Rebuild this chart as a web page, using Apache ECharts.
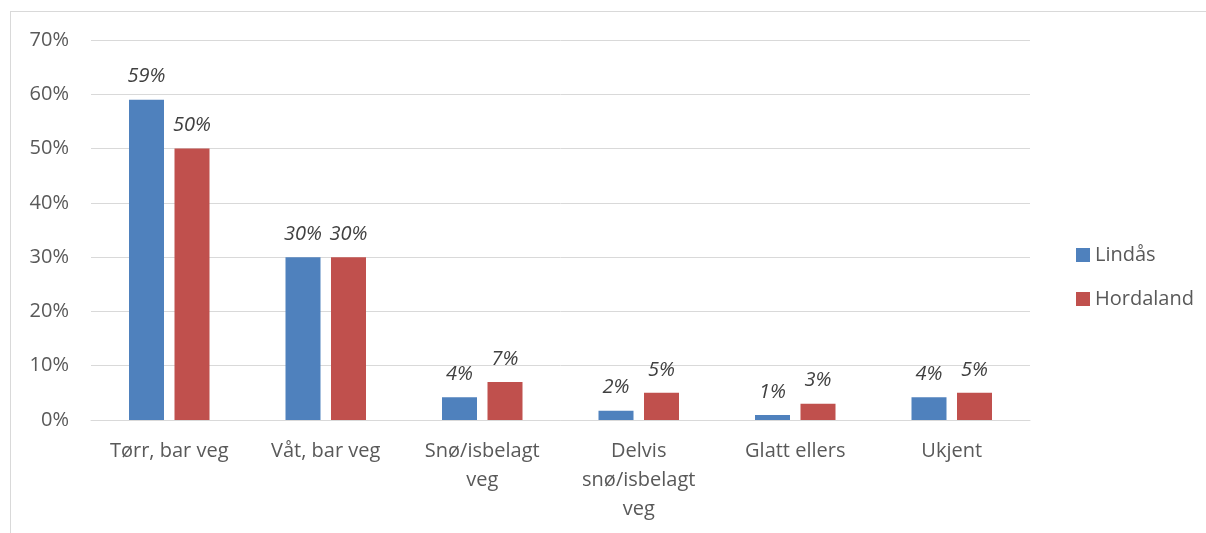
<!DOCTYPE html>
<html>
<head>
<meta charset="utf-8">
<script src="https://cdn.jsdelivr.net/npm/echarts@6/dist/echarts.min.js"></script>
<style>
  html, body { margin: 0; padding: 0; background: #fff; }
  #frame { position: absolute; left: 10px; top: 11px; width: 1210px; height: 540px;
           border-left: 1px solid #d9d9d9; border-top: 1px solid #d9d9d9; }
  #chart { position: absolute; left: 0; top: 0; width: 1206px; height: 533px; }
</style>
</head>
<body>
<div id="frame"></div>
<div id="chart"></div>
<script>
const categories = [
  "Tørr, bar veg",
  "Våt, bar veg",
  "Snø/isbelagt\nveg",
  "Delvis\nsnø/isbelagt\nveg",
  "Glatt ellers",
  "Ukjent",
];
const lindas = [59, 30, 4.2, 1.7, 0.9, 4.2];
const lindasLabels = ["59%", "30%", "4%", "2%", "1%", "4%"];
const hordaland = [50, 30, 7, 5, 3, 5];
const hordalandLabels = ["50%", "30%", "7%", "5%", "3%", "5%"];
const yTicks = [0, 10, 20, 30, 40, 50, 60, 70];

const font = "Open Sans";

const chart = echarts.init(document.getElementById("chart"));

function barLabel(texts) {
  return {
    show: true,
    position: "top",
    distance: 13,
    color: "#404040",
    fontStyle: "italic",
    fontFamily: font,
    fontSize: 20,
    formatter: (p) => texts[p.dataIndex],
  };
}

const option = {
  animation: false,
  textStyle: { fontFamily: font },
  grid: { left: 91, right: 176, top: 40, bottom: 113 },
  legend: {
    orient: "vertical",
    left: 1071,
    top: 240,
    itemWidth: 14,
    itemHeight: 14,
    itemGap: 24,
    icon: "rect",
    textStyle: { color: "#595959", fontSize: 20, fontFamily: font },
    data: ["Lindås", "Hordaland"],
  },
  xAxis: {
    type: "category",
    data: categories,
    axisLine: { lineStyle: { color: "#d9d9d9", width: 1 } },
    axisTick: { show: false },
    axisLabel: {
      color: "#595959",
      fontSize: 20,
      fontFamily: font,
      margin: 17,
      lineHeight: 29,
      interval: 0,
    },
  },
  yAxis: {
    type: "value",
    min: 0,
    max: 70,
    interval: 10,
    axisLine: { show: false },
    axisTick: { show: false },
    splitLine: { lineStyle: { color: "#d9d9d9", width: 1 } },
    axisLabel: {
      color: "#595959",
      fontSize: 20,
      fontFamily: font,
      margin: 22,
      formatter: (v) => (yTicks.includes(v) ? v + "%" : ""),
    },
  },
  series: [
    {
      name: "Lindås",
      type: "bar",
      data: lindas,
      barWidth: 35,
      barGap: "30%",
      itemStyle: { color: "#4f81bd" },
      label: barLabel(lindasLabels),
    },
    {
      name: "Hordaland",
      type: "bar",
      data: hordaland,
      barWidth: 35,
      barGap: "30%",
      itemStyle: { color: "#c0504d" },
      label: barLabel(hordalandLabels),
    },
  ],
};

chart.setOption(option);
</script>
</body>
</html>
